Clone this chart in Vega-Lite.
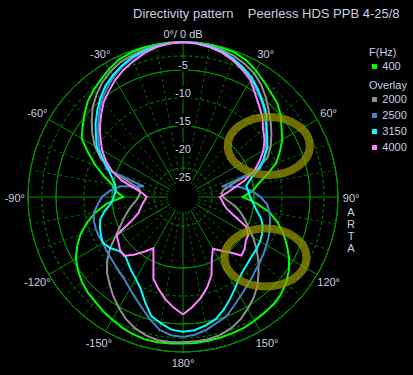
{
"$schema": "https://vega.github.io/schema/vega-lite/v6.json",
"width": 366, "height": 344,
"autosize": {"type": "none"},
"padding": {"left": 0, "top": 25, "right": 47, "bottom": 6},
"background": "#000000",
"title": {"text": "Directivity pattern\u00a0\u00a0\u00a0\u00a0Peerless HDS PPB 4-25/8", "anchor": "start", "frame": "group", "dx": 133, "offset": 4, "fontSize": 13, "fontWeight": "normal", "color": "#c8cfe0", "font": "Liberation Sans"},
"config": {
 "view": {"stroke": null},
 "legend": {"titleFontSize": 11, "titleFontWeight": "normal", "titleColor": "#c8cfe0", "titleFont": "Liberation Sans", "labelFontSize": 11, "labelColor": "#c8cfe0", "labelFont": "Liberation Sans", "symbolType": "square", "symbolSize": 6, "symbolStrokeWidth": 2.5, "labelOffset": 2.3, "rowPadding": 3, "titlePadding": 3, "padding": 0}
},
"resolve": {"scale": {"color": "independent"}},
"datasets": {
 "rings": [{"db": 0, "m": 1}, {"db": -5, "m": 1}, {"db": -10, "m": 1}, {"db": -15, "m": 1}, {"db": -20, "m": 1}, {"db": -25, "m": 1}, {"db": -2.5, "m": 0}, {"db": -7.5, "m": 0}, {"db": -12.5, "m": 0}, {"db": -17.5, "m": 0}, {"db": -22.5, "m": 0}],
 "spokes": [{"a": 0, "m": 1}, {"a": 10, "m": 0}, {"a": 20, "m": 0}, {"a": 30, "m": 1}, {"a": 40, "m": 0}, {"a": 50, "m": 0}, {"a": 60, "m": 1}, {"a": 70, "m": 0}, {"a": 80, "m": 0}, {"a": 90, "m": 1}, {"a": 100, "m": 0}, {"a": 110, "m": 0}, {"a": 120, "m": 1}, {"a": 130, "m": 0}, {"a": 140, "m": 0}, {"a": 150, "m": 1}, {"a": 160, "m": 0}, {"a": 170, "m": 0}, {"a": 180, "m": 1}, {"a": -10, "m": 0}, {"a": -20, "m": 0}, {"a": -30, "m": 1}, {"a": -40, "m": 0}, {"a": -50, "m": 0}, {"a": -60, "m": 1}, {"a": -70, "m": 0}, {"a": -80, "m": 0}, {"a": -90, "m": 1}, {"a": -100, "m": 0}, {"a": -110, "m": 0}, {"a": -120, "m": 1}, {"a": -130, "m": 0}, {"a": -140, "m": 0}, {"a": -150, "m": 1}, {"a": -160, "m": 0}, {"a": -170, "m": 0}],
 "dbl": [{"db": -5, "t": "-5"}, {"db": -10, "t": "-10"}, {"db": -15, "t": "-15"}, {"db": -20, "t": "-20"}, {"db": -25, "t": "-25"}],
 "angl": [{"a": 0, "t": "0°/ 0 dB"}, {"a": 30, "t": "30°"}, {"a": 60, "t": "60°"}, {"a": 90, "t": "90°"}, {"a": 120, "t": "120°"}, {"a": 150, "t": "150°"}, {"a": 180, "t": "180°"}, {"a": -30, "t": "-30°"}, {"a": -60, "t": "-60°"}, {"a": -90, "t": "-90°"}, {"a": -120, "t": "-120°"}, {"a": -150, "t": "-150°"}],
 "curves": [
{"f":"400","a":-180,"db":-1.5},{"f":"400","a":-175,"db":-1.4},{"f":"400","a":-170,"db":-1.35},{"f":"400","a":-165,"db":-1.35},{"f":"400","a":-160,"db":-1.6},{"f":"400","a":-155,"db":-1.95},{"f":"400","a":-150,"db":-2.4},{"f":"400","a":-145,"db":-2.8},{"f":"400","a":-140,"db":-3.3},{"f":"400","a":-135,"db":-3.6},{"f":"400","a":-130,"db":-4.1},{"f":"400","a":-125,"db":-4.8},{"f":"400","a":-120,"db":-5.6},{"f":"400","a":-115,"db":-6.8},{"f":"400","a":-110,"db":-8.2},{"f":"400","a":-105,"db":-9.9},{"f":"400","a":-100,"db":-11.8},{"f":"400","a":-95,"db":-14.0},{"f":"400","a":-90,"db":-17.0},{"f":"400","a":-85,"db":-15.6},{"f":"400","a":-80,"db":-14.8},{"f":"400","a":-75,"db":-13.0},{"f":"400","a":-70,"db":-11.0},{"f":"400","a":-65,"db":-9.0},{"f":"400","a":-60,"db":-6.8},{"f":"400","a":-55,"db":-5.8},{"f":"400","a":-50,"db":-4.7},{"f":"400","a":-45,"db":-3.6},{"f":"400","a":-40,"db":-2.8},{"f":"400","a":-35,"db":-2.1},{"f":"400","a":-30,"db":-1.3},{"f":"400","a":-25,"db":-0.6},{"f":"400","a":-20,"db":-0.3},{"f":"400","a":-15,"db":-0.1},{"f":"400","a":-10,"db":-0.05},{"f":"400","a":-5,"db":0},{"f":"400","a":0,"db":0},{"f":"400","a":5,"db":0},{"f":"400","a":10,"db":-0.05},{"f":"400","a":15,"db":-0.15},{"f":"400","a":20,"db":-0.3},{"f":"400","a":25,"db":-0.8},{"f":"400","a":30,"db":-1.6},{"f":"400","a":35,"db":-2.5},{"f":"400","a":40,"db":-3.3},{"f":"400","a":45,"db":-3.9},{"f":"400","a":50,"db":-4.9},{"f":"400","a":55,"db":-6.2},{"f":"400","a":60,"db":-7.2},{"f":"400","a":65,"db":-8.6},{"f":"400","a":70,"db":-10.0},{"f":"400","a":75,"db":-12.1},{"f":"400","a":80,"db":-14.0},{"f":"400","a":85,"db":-15.2},{"f":"400","a":90,"db":-17.0},{"f":"400","a":95,"db":-14.5},{"f":"400","a":100,"db":-12.0},{"f":"400","a":105,"db":-10.2},{"f":"400","a":110,"db":-8.6},{"f":"400","a":115,"db":-7.2},{"f":"400","a":120,"db":-5.8},{"f":"400","a":125,"db":-4.6},{"f":"400","a":130,"db":-3.7},{"f":"400","a":135,"db":-3.0},{"f":"400","a":140,"db":-2.6},{"f":"400","a":145,"db":-2.4},{"f":"400","a":150,"db":-2.15},{"f":"400","a":155,"db":-1.9},{"f":"400","a":160,"db":-1.8},{"f":"400","a":165,"db":-1.7},{"f":"400","a":170,"db":-1.6},{"f":"400","a":175,"db":-1.5},{"f":"400","a":180,"db":-1.5},
{"f":"2000","a":-180,"db":-1.75},{"f":"2000","a":-175,"db":-1.7},{"f":"2000","a":-170,"db":-1.7},{"f":"2000","a":-165,"db":-2.1},{"f":"2000","a":-160,"db":-2.7},{"f":"2000","a":-155,"db":-3.6},{"f":"2000","a":-150,"db":-4.8},{"f":"2000","a":-145,"db":-6.0},{"f":"2000","a":-140,"db":-7.3},{"f":"2000","a":-135,"db":-8.5},{"f":"2000","a":-130,"db":-10.0},{"f":"2000","a":-125,"db":-11.8},{"f":"2000","a":-120,"db":-13.8},{"f":"2000","a":-115,"db":-15.3},{"f":"2000","a":-110,"db":-16.4},{"f":"2000","a":-105,"db":-17.4},{"f":"2000","a":-100,"db":-18.3},{"f":"2000","a":-95,"db":-19.2},{"f":"2000","a":-90,"db":-19.7},{"f":"2000","a":-85,"db":-20.0},{"f":"2000","a":-80,"db":-19.8},{"f":"2000","a":-75,"db":-18.0},{"f":"2000","a":-70,"db":-13.9},{"f":"2000","a":-65,"db":-11.5},{"f":"2000","a":-60,"db":-9.5},{"f":"2000","a":-55,"db":-7.9},{"f":"2000","a":-50,"db":-6.4},{"f":"2000","a":-45,"db":-4.9},{"f":"2000","a":-40,"db":-3.7},{"f":"2000","a":-35,"db":-2.6},{"f":"2000","a":-30,"db":-1.8},{"f":"2000","a":-25,"db":-1.15},{"f":"2000","a":-20,"db":-0.75},{"f":"2000","a":-15,"db":-0.45},{"f":"2000","a":-10,"db":-0.2},{"f":"2000","a":-5,"db":-0.05},{"f":"2000","a":0,"db":0},{"f":"2000","a":5,"db":-0.05},{"f":"2000","a":10,"db":-0.2},{"f":"2000","a":15,"db":-0.5},{"f":"2000","a":20,"db":-0.9},{"f":"2000","a":25,"db":-1.5},{"f":"2000","a":30,"db":-2.2},{"f":"2000","a":35,"db":-3.3},{"f":"2000","a":40,"db":-4.6},{"f":"2000","a":45,"db":-6.0},{"f":"2000","a":50,"db":-7.2},{"f":"2000","a":55,"db":-8.4},{"f":"2000","a":60,"db":-9.6},{"f":"2000","a":65,"db":-11.0},{"f":"2000","a":70,"db":-13.8},{"f":"2000","a":75,"db":-18.5},{"f":"2000","a":80,"db":-20.3},{"f":"2000","a":85,"db":-20.8},{"f":"2000","a":90,"db":-20.5},{"f":"2000","a":95,"db":-19.6},{"f":"2000","a":100,"db":-18.2},{"f":"2000","a":105,"db":-17.0},{"f":"2000","a":110,"db":-15.9},{"f":"2000","a":115,"db":-14.8},{"f":"2000","a":120,"db":-13.2},{"f":"2000","a":125,"db":-11.7},{"f":"2000","a":130,"db":-10.1},{"f":"2000","a":135,"db":-8.6},{"f":"2000","a":140,"db":-7.0},{"f":"2000","a":145,"db":-5.7},{"f":"2000","a":150,"db":-4.6},{"f":"2000","a":155,"db":-3.5},{"f":"2000","a":160,"db":-2.7},{"f":"2000","a":165,"db":-2.15},{"f":"2000","a":170,"db":-1.9},{"f":"2000","a":175,"db":-1.8},{"f":"2000","a":180,"db":-1.75},
{"f":"2500","a":-180,"db":-2.7},{"f":"2500","a":-175,"db":-2.9},{"f":"2500","a":-170,"db":-3.6},{"f":"2500","a":-165,"db":-5.0},{"f":"2500","a":-160,"db":-6.5},{"f":"2500","a":-155,"db":-7.7},{"f":"2500","a":-150,"db":-8.7},{"f":"2500","a":-145,"db":-9.6},{"f":"2500","a":-140,"db":-10.1},{"f":"2500","a":-135,"db":-10.5},{"f":"2500","a":-130,"db":-10.8},{"f":"2500","a":-125,"db":-11.0},{"f":"2500","a":-120,"db":-11.2},{"f":"2500","a":-115,"db":-11.1},{"f":"2500","a":-110,"db":-11.1},{"f":"2500","a":-105,"db":-11.2},{"f":"2500","a":-100,"db":-11.5},{"f":"2500","a":-95,"db":-12.4},{"f":"2500","a":-90,"db":-13.2},{"f":"2500","a":-85,"db":-14.6},{"f":"2500","a":-80,"db":-16.5},{"f":"2500","a":-75,"db":-20.5},{"f":"2500","a":-70,"db":-13.2},{"f":"2500","a":-65,"db":-11.9},{"f":"2500","a":-60,"db":-10.4},{"f":"2500","a":-55,"db":-9.2},{"f":"2500","a":-50,"db":-7.9},{"f":"2500","a":-45,"db":-6.5},{"f":"2500","a":-40,"db":-5.1},{"f":"2500","a":-35,"db":-4.0},{"f":"2500","a":-30,"db":-2.9},{"f":"2500","a":-25,"db":-2.0},{"f":"2500","a":-20,"db":-1.3},{"f":"2500","a":-15,"db":-0.8},{"f":"2500","a":-10,"db":-0.4},{"f":"2500","a":-5,"db":-0.1},{"f":"2500","a":0,"db":0},{"f":"2500","a":5,"db":-0.15},{"f":"2500","a":10,"db":-0.45},{"f":"2500","a":15,"db":-0.95},{"f":"2500","a":20,"db":-1.6},{"f":"2500","a":25,"db":-2.4},{"f":"2500","a":30,"db":-3.4},{"f":"2500","a":35,"db":-4.6},{"f":"2500","a":40,"db":-5.7},{"f":"2500","a":45,"db":-6.9},{"f":"2500","a":50,"db":-8.4},{"f":"2500","a":55,"db":-9.6},{"f":"2500","a":60,"db":-10.6},{"f":"2500","a":65,"db":-11.8},{"f":"2500","a":70,"db":-13.0},{"f":"2500","a":75,"db":-20.5},{"f":"2500","a":80,"db":-17.5},{"f":"2500","a":85,"db":-15.3},{"f":"2500","a":90,"db":-13.8},{"f":"2500","a":95,"db":-12.6},{"f":"2500","a":100,"db":-12.0},{"f":"2500","a":105,"db":-11.6},{"f":"2500","a":110,"db":-11.2},{"f":"2500","a":115,"db":-10.8},{"f":"2500","a":120,"db":-10.5},{"f":"2500","a":125,"db":-10.1},{"f":"2500","a":130,"db":-9.7},{"f":"2500","a":135,"db":-9.3},{"f":"2500","a":140,"db":-8.7},{"f":"2500","a":145,"db":-8.0},{"f":"2500","a":150,"db":-7.2},{"f":"2500","a":155,"db":-6.2},{"f":"2500","a":160,"db":-5.0},{"f":"2500","a":165,"db":-4.4},{"f":"2500","a":170,"db":-3.6},{"f":"2500","a":175,"db":-3.0},{"f":"2500","a":180,"db":-2.7},
{"f":"3150","a":-180,"db":-3.6},{"f":"3150","a":-175,"db":-3.9},{"f":"3150","a":-170,"db":-4.8},{"f":"3150","a":-165,"db":-5.7},{"f":"3150","a":-160,"db":-7.8},{"f":"3150","a":-155,"db":-9.7},{"f":"3150","a":-150,"db":-10.8},{"f":"3150","a":-145,"db":-11.6},{"f":"3150","a":-140,"db":-12.4},{"f":"3150","a":-135,"db":-13.0},{"f":"3150","a":-130,"db":-12.7},{"f":"3150","a":-125,"db":-11.8},{"f":"3150","a":-120,"db":-11.2},{"f":"3150","a":-115,"db":-11.5},{"f":"3150","a":-110,"db":-11.9},{"f":"3150","a":-105,"db":-12.4},{"f":"3150","a":-100,"db":-13.5},{"f":"3150","a":-95,"db":-14.8},{"f":"3150","a":-90,"db":-15.3},{"f":"3150","a":-85,"db":-15.6},{"f":"3150","a":-80,"db":-15.4},{"f":"3150","a":-75,"db":-14.6},{"f":"3150","a":-70,"db":-13.5},{"f":"3150","a":-65,"db":-12.0},{"f":"3150","a":-60,"db":-9.9},{"f":"3150","a":-55,"db":-8.7},{"f":"3150","a":-50,"db":-7.3},{"f":"3150","a":-45,"db":-6.0},{"f":"3150","a":-40,"db":-4.7},{"f":"3150","a":-35,"db":-3.5},{"f":"3150","a":-30,"db":-2.6},{"f":"3150","a":-25,"db":-1.8},{"f":"3150","a":-20,"db":-1.1},{"f":"3150","a":-15,"db":-0.7},{"f":"3150","a":-10,"db":-0.35},{"f":"3150","a":-5,"db":-0.1},{"f":"3150","a":0,"db":0},{"f":"3150","a":5,"db":-0.1},{"f":"3150","a":10,"db":-0.35},{"f":"3150","a":15,"db":-0.75},{"f":"3150","a":20,"db":-1.4},{"f":"3150","a":25,"db":-2.2},{"f":"3150","a":30,"db":-3.1},{"f":"3150","a":35,"db":-4.3},{"f":"3150","a":40,"db":-5.5},{"f":"3150","a":45,"db":-6.6},{"f":"3150","a":50,"db":-8.2},{"f":"3150","a":55,"db":-9.3},{"f":"3150","a":60,"db":-10.3},{"f":"3150","a":65,"db":-11.8},{"f":"3150","a":70,"db":-13.4},{"f":"3150","a":75,"db":-15.2},{"f":"3150","a":80,"db":-16.2},{"f":"3150","a":85,"db":-16.0},{"f":"3150","a":90,"db":-15.7},{"f":"3150","a":95,"db":-15.1},{"f":"3150","a":100,"db":-14.4},{"f":"3150","a":105,"db":-13.3},{"f":"3150","a":110,"db":-12.5},{"f":"3150","a":115,"db":-12.1},{"f":"3150","a":120,"db":-11.8},{"f":"3150","a":125,"db":-11.6},{"f":"3150","a":130,"db":-11.5},{"f":"3150","a":135,"db":-11.2},{"f":"3150","a":140,"db":-10.8},{"f":"3150","a":145,"db":-10.1},{"f":"3150","a":150,"db":-9.0},{"f":"3150","a":155,"db":-7.7},{"f":"3150","a":160,"db":-6.3},{"f":"3150","a":165,"db":-5.1},{"f":"3150","a":170,"db":-4.4},{"f":"3150","a":175,"db":-3.8},{"f":"3150","a":180,"db":-3.6},
{"f":"4000","a":-180,"db":-6.7},{"f":"4000","a":-175,"db":-7.9},{"f":"4000","a":-170,"db":-9.2},{"f":"4000","a":-165,"db":-10.7},{"f":"4000","a":-160,"db":-12.2},{"f":"4000","a":-155,"db":-15.2},{"f":"4000","a":-150,"db":-17.1},{"f":"4000","a":-145,"db":-15.8},{"f":"4000","a":-140,"db":-14.3},{"f":"4000","a":-135,"db":-12.8},{"f":"4000","a":-130,"db":-13.0},{"f":"4000","a":-125,"db":-13.6},{"f":"4000","a":-120,"db":-14.0},{"f":"4000","a":-115,"db":-17.5},{"f":"4000","a":-110,"db":-19.2},{"f":"4000","a":-105,"db":-19.8},{"f":"4000","a":-100,"db":-20.3},{"f":"4000","a":-95,"db":-20.8},{"f":"4000","a":-90,"db":-21.2},{"f":"4000","a":-85,"db":-20.5},{"f":"4000","a":-80,"db":-19.0},{"f":"4000","a":-75,"db":-16.4},{"f":"4000","a":-70,"db":-14.2},{"f":"4000","a":-65,"db":-12.5},{"f":"4000","a":-60,"db":-11.0},{"f":"4000","a":-55,"db":-9.7},{"f":"4000","a":-50,"db":-8.3},{"f":"4000","a":-45,"db":-7.0},{"f":"4000","a":-40,"db":-5.6},{"f":"4000","a":-35,"db":-4.6},{"f":"4000","a":-30,"db":-3.5},{"f":"4000","a":-25,"db":-2.6},{"f":"4000","a":-20,"db":-1.85},{"f":"4000","a":-15,"db":-1.1},{"f":"4000","a":-10,"db":-0.5},{"f":"4000","a":-5,"db":-0.15},{"f":"4000","a":0,"db":0},{"f":"4000","a":5,"db":-0.15},{"f":"4000","a":10,"db":-0.5},{"f":"4000","a":15,"db":-0.95},{"f":"4000","a":20,"db":-1.7},{"f":"4000","a":25,"db":-2.6},{"f":"4000","a":30,"db":-3.6},{"f":"4000","a":35,"db":-5.2},{"f":"4000","a":40,"db":-6.5},{"f":"4000","a":45,"db":-7.6},{"f":"4000","a":50,"db":-9.0},{"f":"4000","a":55,"db":-9.9},{"f":"4000","a":60,"db":-11.1},{"f":"4000","a":65,"db":-12.6},{"f":"4000","a":70,"db":-14.2},{"f":"4000","a":75,"db":-16.3},{"f":"4000","a":80,"db":-18.5},{"f":"4000","a":85,"db":-19.9},{"f":"4000","a":90,"db":-21.1},{"f":"4000","a":95,"db":-20.7},{"f":"4000","a":100,"db":-20.3},{"f":"4000","a":105,"db":-19.6},{"f":"4000","a":110,"db":-18.0},{"f":"4000","a":115,"db":-15.3},{"f":"4000","a":120,"db":-14.2},{"f":"4000","a":125,"db":-14.0},{"f":"4000","a":130,"db":-13.3},{"f":"4000","a":135,"db":-12.9},{"f":"4000","a":140,"db":-14.8},{"f":"4000","a":145,"db":-16.0},{"f":"4000","a":150,"db":-17.0},{"f":"4000","a":155,"db":-15.5},{"f":"4000","a":160,"db":-12.8},{"f":"4000","a":165,"db":-11.0},{"f":"4000","a":170,"db":-9.4},{"f":"4000","a":175,"db":-8.0},{"f":"4000","a":180,"db":-6.7}
 ]
},
"layer": [
 {"data": {"name": "rings"}, "transform": [{"filter": "datum.m == 0"}],
  "mark": {"type": "arc", "filled": false, "stroke": "#006c08", "strokeWidth": 1, "strokeDash": [3, 3], "theta": 0, "theta2": 6.2832},
  "encoding": {"radius": {"field": "db", "type": "quantitative", "scale": {"type": "linear", "domain": [-27.68, 0], "range": [0, 155], "zero": false}}}},
 {"data": {"name": "rings"}, "transform": [{"filter": "datum.m == 1"}],
  "mark": {"type": "arc", "filled": false, "stroke": "#008f00", "strokeWidth": 1, "theta": 0, "theta2": 6.2832},
  "encoding": {"radius": {"field": "db", "type": "quantitative", "scale": {"type": "linear", "domain": [-27.68, 0], "range": [0, 155], "zero": false}}}},
 {"data": {"name": "spokes"}, "transform": [{"filter": "datum.m == 0"}, {"calculate": "0.0968*sin(datum.a*PI/180)", "as": "x1"}, {"calculate": "0.0968*cos(datum.a*PI/180)", "as": "y1"}, {"calculate": "sin(datum.a*PI/180)", "as": "x2"}, {"calculate": "cos(datum.a*PI/180)", "as": "y2"}],
  "mark": {"type": "rule", "stroke": "#006c08", "strokeWidth": 1, "strokeDash": [3, 3]},
  "encoding": {"x": {"field": "x1", "type": "quantitative", "scale": {"domain": [-1.18065, 1.18065], "nice": false, "zero": false}, "axis": null}, "y": {"field": "y1", "type": "quantitative", "scale": {"domain": [-1.10968, 1.10968], "nice": false, "zero": false}, "axis": null}, "x2": {"field": "x2"}, "y2": {"field": "y2"}}},
 {"data": {"name": "spokes"}, "transform": [{"filter": "datum.m == 1"}, {"calculate": "0.0968*sin(datum.a*PI/180)", "as": "x1"}, {"calculate": "0.0968*cos(datum.a*PI/180)", "as": "y1"}, {"calculate": "sin(datum.a*PI/180)", "as": "x2"}, {"calculate": "cos(datum.a*PI/180)", "as": "y2"}],
  "mark": {"type": "rule", "stroke": "#008f00", "strokeWidth": 1},
  "encoding": {"x": {"field": "x1", "type": "quantitative", "scale": {"domain": [-1.18065, 1.18065], "nice": false, "zero": false}, "axis": null}, "y": {"field": "y1", "type": "quantitative", "scale": {"domain": [-1.10968, 1.10968], "nice": false, "zero": false}, "axis": null}, "x2": {"field": "x2"}, "y2": {"field": "y2"}}},
 {"data": {"name": "dbl"}, "transform": [{"calculate": "(datum.db+27.68)/27.68", "as": "yy"}],
  "mark": {"type": "text", "dy": -3.5, "align": "center", "baseline": "middle", "font": "Liberation Sans", "fontSize": 11, "stroke": "#000000", "strokeWidth": 5, "fill": "#000000"},
  "encoding": {"x": {"datum": 0, "type": "quantitative", "scale": {"domain": [-1.18065, 1.18065], "nice": false, "zero": false}, "axis": null}, "y": {"field": "yy", "type": "quantitative", "scale": {"domain": [-1.10968, 1.10968], "nice": false, "zero": false}, "axis": null}, "text": {"field": "t"}}},
 {"data": {"name": "dbl"}, "transform": [{"calculate": "(datum.db+27.68)/27.68", "as": "yy"}],
  "mark": {"type": "text", "dy": -3.5, "align": "center", "baseline": "middle", "font": "Liberation Sans", "fontSize": 11, "fill": "#c8cfe0"},
  "encoding": {"x": {"datum": 0, "type": "quantitative", "scale": {"domain": [-1.18065, 1.18065], "nice": false, "zero": false}, "axis": null}, "y": {"field": "yy", "type": "quantitative", "scale": {"domain": [-1.10968, 1.10968], "nice": false, "zero": false}, "axis": null}, "text": {"field": "t"}}},
 {"data": {"name": "curves"}, "transform": [{"filter": "datum.f == '400'"}, {"calculate": "(datum.db+27.68)/27.68", "as": "rr"}, {"calculate": "datum.rr*sin(datum.a*PI/180)", "as": "px"}, {"calculate": "datum.rr*cos(datum.a*PI/180)", "as": "py"}],
  "mark": {"type": "line", "strokeWidth": 2},
  "encoding": {"x": {"field": "px", "type": "quantitative", "scale": {"domain": [-1.18065, 1.18065], "nice": false, "zero": false}, "axis": null}, "y": {"field": "py", "type": "quantitative", "scale": {"domain": [-1.10968, 1.10968], "nice": false, "zero": false}, "axis": null}, "order": {"field": "a", "type": "quantitative"},
   "color": {"field": "f", "type": "nominal", "scale": {"domain": ["400"], "range": ["#00ff00"]}, "legend": {"title": "F(Hz)", "orient": "none", "legendX": 369, "legendY": 22}}}},
 {"data": {"name": "curves"}, "transform": [{"filter": "datum.f != '400'"}, {"calculate": "(datum.db+27.68)/27.68", "as": "rr"}, {"calculate": "datum.rr*sin(datum.a*PI/180)", "as": "px"}, {"calculate": "datum.rr*cos(datum.a*PI/180)", "as": "py"}],
  "mark": {"type": "line", "strokeWidth": 2},
  "encoding": {"x": {"field": "px", "type": "quantitative", "scale": {"domain": [-1.18065, 1.18065], "nice": false, "zero": false}, "axis": null}, "y": {"field": "py", "type": "quantitative", "scale": {"domain": [-1.10968, 1.10968], "nice": false, "zero": false}, "axis": null}, "order": {"field": "a", "type": "quantitative"},
   "color": {"field": "f", "type": "nominal", "scale": {"domain": ["2000", "2500", "3150", "4000"], "range": ["#909090", "#4682c8", "#00ffff", "#ff80ff"]}, "legend": {"title": "Overlay", "orient": "none", "legendX": 369, "legendY": 55}}}},
 {"data": {"values": [{}]},
  "mark": {"type": "point", "shape": "M-1,0A1,0.707,0,1,1,1,0A1,0.707,0,1,1,-1,0Z", "size": 6724, "filled": false, "stroke": "#999900", "strokeWidth": 8, "opacity": 0.72},
  "encoding": {"x": {"datum": 0.5535, "type": "quantitative", "scale": {"domain": [-1.18065, 1.18065], "nice": false, "zero": false}, "axis": null}, "y": {"datum": 0.329, "type": "quantitative", "scale": {"domain": [-1.10968, 1.10968], "nice": false, "zero": false}, "axis": null}}},
 {"data": {"values": [{}]},
  "mark": {"type": "point", "shape": "M-1,0A1,0.707,0,1,1,1,0A1,0.707,0,1,1,-1,0Z", "size": 6724, "filled": false, "stroke": "#999900", "strokeWidth": 8, "opacity": 0.72},
  "encoding": {"x": {"datum": 0.532, "type": "quantitative", "scale": {"domain": [-1.18065, 1.18065], "nice": false, "zero": false}, "axis": null}, "y": {"datum": -0.39, "type": "quantitative", "scale": {"domain": [-1.10968, 1.10968], "nice": false, "zero": false}, "axis": null}}},
 {"data": {"name": "angl"}, "transform": [{"calculate": "datum.a == 0 ? 1.058 : (abs(datum.a) == 30 ? 1.068 : (abs(datum.a) == 180 ? 1.068 : 1.085))", "as": "lr"}, {"calculate": "datum.lr*sin(datum.a*PI/180)", "as": "px"}, {"calculate": "datum.lr*cos(datum.a*PI/180)", "as": "py"}],
  "mark": {"type": "text", "align": "center", "baseline": "middle", "dy": 1.5, "font": "Liberation Sans", "fontSize": 11, "fill": "#c8cfe0"},
  "encoding": {"x": {"field": "px", "type": "quantitative", "scale": {"domain": [-1.18065, 1.18065], "nice": false, "zero": false}, "axis": null}, "y": {"field": "py", "type": "quantitative", "scale": {"domain": [-1.10968, 1.10968], "nice": false, "zero": false}, "axis": null}, "text": {"field": "t"}}},
 {"data": {"values": [{"t": "A\nR\nT\nA"}]},
  "mark": {"type": "text", "align": "center", "baseline": "alphabetic", "lineBreak": "\n", "lineHeight": 12.3, "font": "Liberation Sans", "fontSize": 11, "fill": "#c8cfe0"},
  "encoding": {"x": {"datum": 1.084, "type": "quantitative", "scale": {"domain": [-1.18065, 1.18065], "nice": false, "zero": false}, "axis": null}, "y": {"datum": -0.12, "type": "quantitative", "scale": {"domain": [-1.10968, 1.10968], "nice": false, "zero": false}, "axis": null}, "text": {"field": "t"}}}
]
}
